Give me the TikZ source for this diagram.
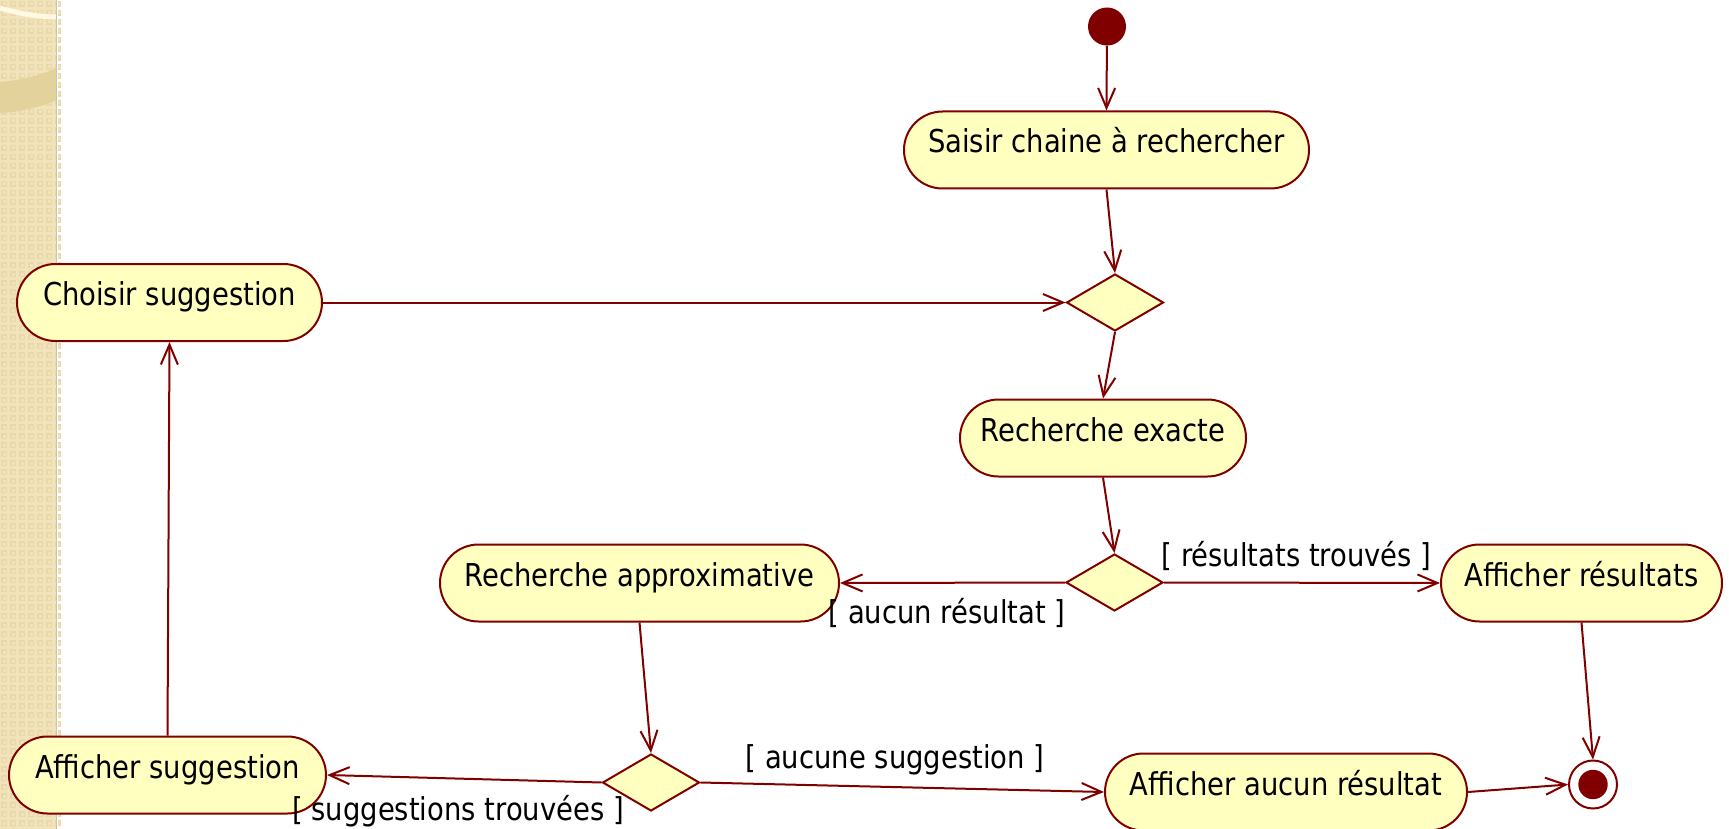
\documentclass[tikz,border=0pt]{standalone}
\usepackage{fontspec}
\setmainfont{DejaVu Sans}[FakeStretch=0.87]
\usetikzlibrary{shapes.geometric,shapes.misc,arrows.meta}
\definecolor{umlred}{RGB}{128,0,0}
\definecolor{umlfill}{RGB}{255,255,192}
\definecolor{stripbg}{RGB}{242,228,186}
\definecolor{stripdot}{RGB}{232,216,172}
\definecolor{stripband}{RGB}{228,210,156}
\definecolor{stripcream}{RGB}{255,248,226}
\definecolor{stripedge}{RGB}{205,195,170}
\newcommand{\lblfont}{\fontsize{31.5pt}{36pt}\selectfont}
\tikzset{
  act/.style={rounded rectangle, draw=umlred, fill=umlfill, line width=2pt,
    minimum height=77pt, inner xsep=0pt, text height=23pt, text depth=17pt, font=\lblfont},
  dec/.style={diamond, draw=umlred, fill=umlfill, line width=2pt,
    minimum width=97pt, minimum height=57pt, inner sep=0pt},
  flow/.style={draw=umlred, line width=2pt, -{Straight Barb[length=20pt,width=17pt]}},
  guard/.style={font=\lblfont, inner sep=0pt, anchor=base},
  startnode/.style={circle, fill=umlred, minimum size=38pt, inner sep=0pt},
  endnode/.style={circle, draw=umlred, fill=white, line width=2pt, minimum size=48pt, inner sep=0pt}
}
\begin{document}
\begin{tikzpicture}[x=1pt,y=-1pt]
\useasboundingbox (0,0) rectangle (1729,829);
% left decorative strip
\fill[stripbg] (0,0) rectangle (57,829);
\foreach \i in {0,...,6} {
  \foreach \j in {0,...,92} {
    \fill[stripdot] (\i*9+1,\j*9+1) rectangle ++(6,6);
    \fill[stripbg] (\i*9+2.5,\j*9+2.5) rectangle ++(3,3);
  }
}
\fill[stripband] (0,82) .. controls (20,80) and (45,75) .. (57,67) -- (57,100) .. controls (45,106) and (20,112) .. (0,113) -- cycle;
\draw[stripcream, line width=5pt] (0,8) .. controls (20,14) and (40,17) .. (57,17);
\fill[white] (57,0) rectangle (58,829);
\draw[stripedge, line width=1pt] (56.5,0) -- (56.5,829);

% nodes
\node[startnode] (init) at (1107,26.5) {};
\node[act, minimum width=405pt] (saisir) at (1106.5,150) {Saisir chaine à rechercher};
\node[dec] (d1) at (1115,302.5) {};
\node[act, minimum width=305pt] (choisir) at (169.5,302.5) {Choisir suggestion};
\node[act, minimum width=286pt] (exacte) at (1103,438) {Recherche exacte};
\node[dec] (d2) at (1114.5,582.5) {};
\node[act, minimum width=399pt] (approx) at (639.5,583) {Recherche approximative};
\node[act, minimum width=281pt] (resultats) at (1581.5,583) {Afficher résultats};
\node[dec] (d3) at (651,782.5) {};
\node[act, minimum width=317pt] (suggestion) at (167.5,775) {Afficher suggestion};
\node[act, minimum width=362pt] (aucun) at (1286,792) {Afficher aucun résultat};
\node[endnode] (fin) at (1593,784.5) {};
\fill[umlred] (fin.center) circle (14.7pt);

% connectors
\draw[flow] (init) -- (saisir.north);
\draw[flow] (saisir.south) -- (d1.north);
\draw[flow] (choisir.east) -- (d1.west);
\draw[flow] (d1.south) -- (exacte.north);
\draw[flow] (exacte.south) -- (d2.north);
\draw[flow] (d2.west) -- (approx.east);
\draw[flow] (d2.east) -- (resultats.west);
\draw[flow] (resultats.south) -- (fin.north);
\draw[flow] (approx.south) -- (d3.north);
\draw[flow] (d3.west) -- (suggestion.east);
\draw[flow] (d3.east) -- (aucun.west);
\draw[flow] (aucun.east) -- (fin.west);
\draw[flow] (suggestion.north) -- (choisir.south);

% guards
\node[guard] (g1) at (1296.5,566) {[ résultats trouvés ]};
\node[guard] (g2) at (947,623) {[ aucun résultat ]};
\node[guard] (g3) at (895,768) {[ aucune suggestion ]};
\node[guard] (g4) at (458,820.5) {[ suggestions trouvées ]};
\end{tikzpicture}
\end{document}
